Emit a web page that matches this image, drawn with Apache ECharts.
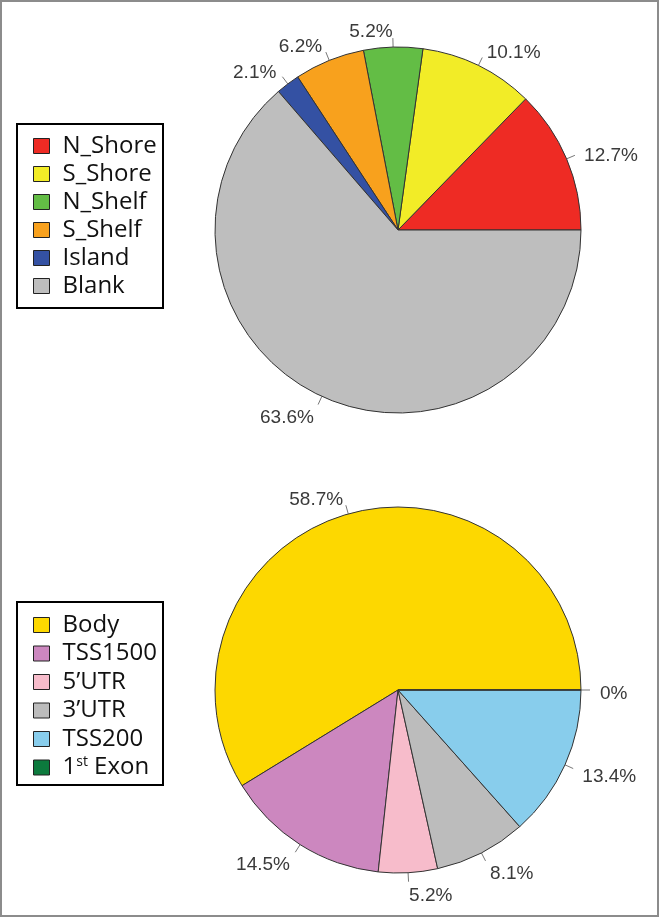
<!DOCTYPE html>
<html>
<head>
<meta charset="utf-8">
<script src="https://cdn.jsdelivr.net/npm/echarts@6/dist/echarts.min.js"></script>
<style>
  html, body { margin: 0; padding: 0; background: #fff; }
  #chart { width: 661px; height: 919px; }
</style>
</head>
<body>
<div id="chart"></div>
<script>
// top pie: CpG island context
const regionNames = ['N_Shore', 'S_Shore', 'N_Shelf', 'S_Shelf', 'Island', 'Blank']
const regionValues = [12.7, 10.1, 5.2, 6.2, 2.1, 63.6]
const regionColors = ['#ee2b24', '#f2ec27', '#63bd45', '#f8a11d', '#3451a3', '#bebebe']

// bottom pie: gene feature
const featureNames = ['Body', 'TSS1500', '5’UTR', '3’UTR', 'TSS200', '1st Exon']
const featureValues = [58.7, 14.5, 5.2, 8.1, 13.4, 0]
const featureColors = ['#fdd800', '#cc87bf', '#f7bccb', '#bcbcbc', '#88cdec', '#0c7a3d']

const chart = echarts.init(document.getElementById('chart'))

const R = 183
const labelFont = { fontFamily: 'Liberation Sans', fontSize: 19, color: '#3a3a3a' }

function pieData(names, values, colors) {
	return names.map((n, i) => ({ name: n, value: values[i], itemStyle: { color: colors[i] } }))
}

// the visible pie with short tick marks
function slicePie(names, values, colors, center) {
	return {
		type: 'pie',
		center: center,
		radius: R,
		startAngle: 0,
		clockwise: false,
		avoidLabelOverlap: false,
		silent: true,
		itemStyle: { borderColor: '#333', borderWidth: 1 },
		label: { show: true, formatter: ' ', fontSize: 1, color: 'transparent', distanceToLabelLine: 0 },
		labelLine: { show: true, length: 9, length2: 0, lineStyle: { color: '#777', width: 1 } },
		labelLayout: { hideOverlap: false },
		data: pieData(names, values, colors),
	}
}

// invisible copy that only carries the percent labels just outside the rim
// (text sits a few px low, like the base-R text baseline)
function labelPie(names, values, center) {
	return {
		type: 'pie',
		center: [center[0], center[1] + 4],
		radius: R,
		startAngle: 0,
		clockwise: false,
		avoidLabelOverlap: false,
		silent: true,
		itemStyle: { color: 'transparent', borderWidth: 0 },
		label: {
			show: true,
			formatter: (p) => p.value + '%',
			distanceToLabelLine: 0,
			...labelFont,
		},
		labelLine: { show: false, length: 19, length2: 0 },
		labelLayout: { hideOverlap: false },
		data: names.map((n, i) => ({ name: n, value: values[i] })),
	}
}

const legendText = {
	fontFamily: 'Open Sans',
	fontSize: 24,
	color: '#111',
	lineHeight: 28,
	padding: [0, 0, 0, 8],
	rich: {
		sup: { fontFamily: 'Open Sans', fontSize: 14, lineHeight: 28, padding: [0, 0, 10, 0], color: '#111' },
	},
}

const option = {
	animation: false,
	backgroundColor: '#fff',
	graphic: [
		{ type: 'rect', shape: { x: 1, y: 1, width: 657, height: 915 }, style: { fill: 'none', stroke: '#8c8c8c', lineWidth: 2 } },
		{ type: 'rect', shape: { x: 17, y: 124, width: 146, height: 184 }, style: { fill: 'none', stroke: '#000', lineWidth: 2 } },
		{ type: 'rect', shape: { x: 17, y: 602, width: 146, height: 183 }, style: { fill: 'none', stroke: '#000', lineWidth: 2 } },
	],
	legend: [
		{
			data: regionNames,
			orient: 'vertical',
			left: 33,
			top: 132,
			padding: 0,
			itemGap: 0,
			itemWidth: 16,
			itemHeight: 15,
			icon: 'rect',
			selectedMode: false,
			itemStyle: { borderColor: '#222', borderWidth: 1 },
			textStyle: legendText,
		},
		{
			data: featureNames,
			orient: 'vertical',
			left: 33,
			top: 611,
			padding: 0,
			itemGap: 0.5,
			itemWidth: 16,
			itemHeight: 15,
			icon: 'rect',
			selectedMode: false,
			itemStyle: { borderColor: '#222', borderWidth: 1 },
			textStyle: legendText,
			formatter: (name) => (name === '1st Exon' ? '1{sup|st} Exon' : name),
		},
	],
	series: [
		slicePie(regionNames, regionValues, regionColors, [398, 230]),
		slicePie(featureNames, featureValues, featureColors, [398, 690]),
		labelPie(regionNames, regionValues, [398, 230]),
		labelPie(featureNames, featureValues, [398, 690]),
	],
}

chart.setOption(option)
</script>
</body>
</html>
